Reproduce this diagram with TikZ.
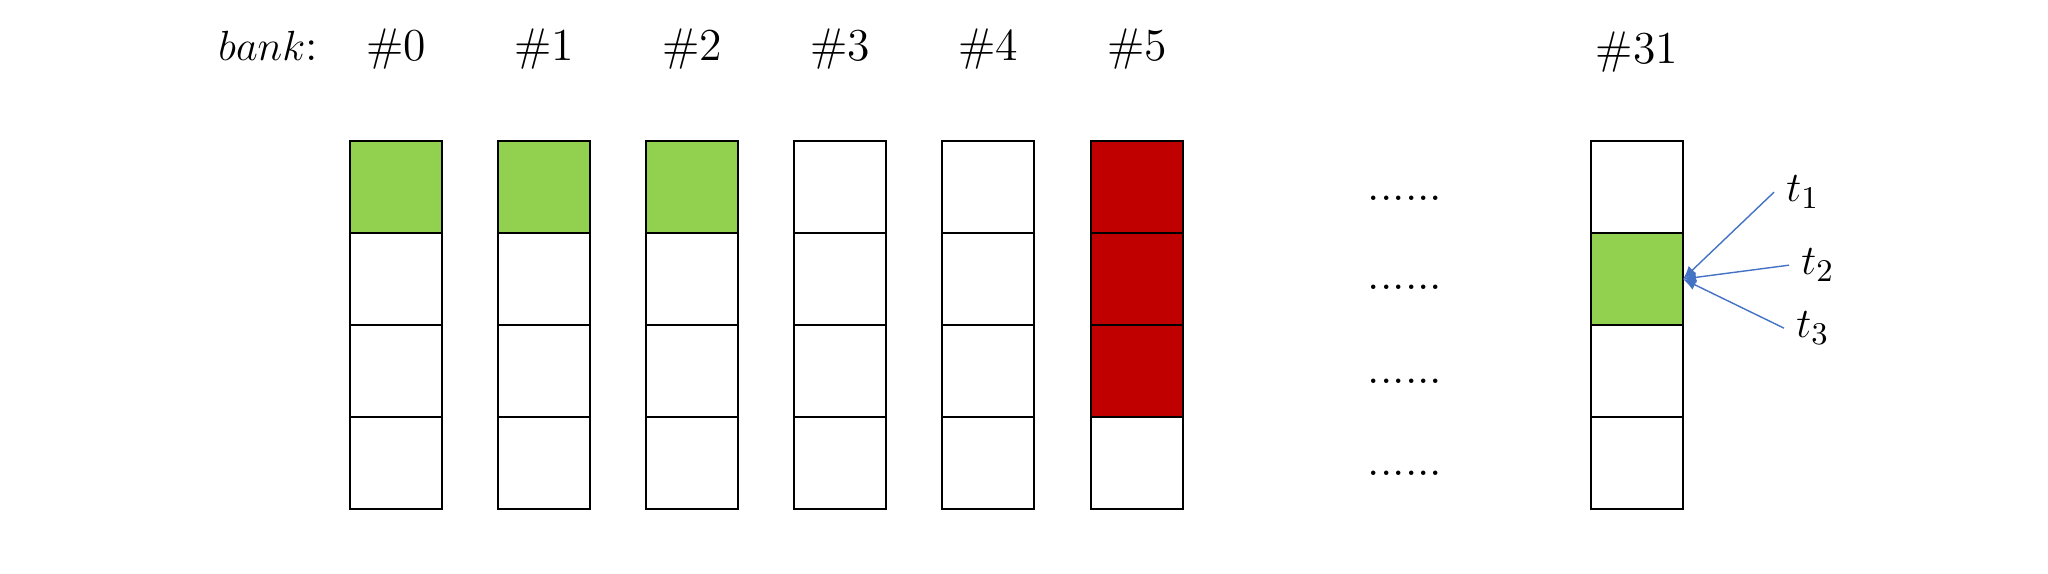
\documentclass[tikz,border=0pt]{standalone}
\usepackage{tikz}
\usetikzlibrary{arrows.meta,positioning}

\definecolor{cellgreen}{HTML}{92D050}
\definecolor{cellred}{HTML}{C00000}
\definecolor{ptrblue}{HTML}{4472C4}

\tikzset{
  cell/.style={draw=black, line width=0.6pt, minimum width=0.92cm, minimum height=0.92cm, inner sep=0, outer sep=0},
  hit/.style={cell, fill=cellgreen},
  clash/.style={cell, fill=cellred},
  banklabel/.style={font=\fontsize{13}{15}\selectfont, inner sep=0},
  dotrow/.style={font=\fontsize{13}{15}\selectfont, inner sep=0},
  thread/.style={font=\fontsize{13}{15}\selectfont},
  access/.style={draw=ptrblue, line width=0.4pt, -{Latex[length=1.3mm,width=1.1mm]}}
}

\begin{document}
\begin{tikzpicture}[x=0.01cm, y=-0.01cm]

\useasboundingbox (0,0) rectangle (2048,574);

% bank 0
\node[hit] (b0a) at (396,187) {};
\node[cell, below=0pt of b0a] (b0b) {};
\node[cell, below=0pt of b0b] (b0c) {};
\node[cell, below=0pt of b0c] (b0d) {};

% bank 1
\node[hit] (b1a) at (544,187) {};
\node[cell, below=0pt of b1a] (b1b) {};
\node[cell, below=0pt of b1b] (b1c) {};
\node[cell, below=0pt of b1c] (b1d) {};

% bank 2
\node[hit] (b2a) at (692,187) {};
\node[cell, below=0pt of b2a] (b2b) {};
\node[cell, below=0pt of b2b] (b2c) {};
\node[cell, below=0pt of b2c] (b2d) {};

% bank 3
\node[cell] (b3a) at (840,187) {};
\node[cell, below=0pt of b3a] (b3b) {};
\node[cell, below=0pt of b3b] (b3c) {};
\node[cell, below=0pt of b3c] (b3d) {};

% bank 4
\node[cell] (b4a) at (988,187) {};
\node[cell, below=0pt of b4a] (b4b) {};
\node[cell, below=0pt of b4b] (b4c) {};
\node[cell, below=0pt of b4c] (b4d) {};

% bank 5 (conflict)
\node[clash] (b5a) at (1137,187) {};
\node[clash, below=0pt of b5a] (b5b) {};
\node[clash, below=0pt of b5b] (b5c) {};
\node[cell, below=0pt of b5c] (b5d) {};

% bank 31
\node[cell] (b31a) at (1637,187) {};
\node[hit, below=0pt of b31a] (b31b) {};
\node[cell, below=0pt of b31b] (b31c) {};
\node[cell, below=0pt of b31c] (b31d) {};

% bank numbers
\node[banklabel, anchor=base] (n0) at ([yshift=0.8cm]b0a.north) {\#0};
\node[banklabel, anchor=base] (n1) at ([yshift=0.8cm]b1a.north) {\#1};
\node[banklabel, anchor=base] (n2) at ([yshift=0.8cm]b2a.north) {\#2};
\node[banklabel, anchor=base] (n3) at ([yshift=0.8cm]b3a.north) {\#3};
\node[banklabel, anchor=base] (n4) at ([yshift=0.8cm]b4a.north) {\#4};
\node[banklabel, anchor=base] (n5) at ([yshift=0.8cm]b5a.north) {\#5};
\node[banklabel, anchor=base] (n31) at ([yshift=0.77cm]b31a.north) {\#31};
\node[banklabel, anchor=base east] (bank) at ([xshift=-0.47cm]n0.base west) {$bank$:};

% skipped banks
\node[dotrow] (dotsa) at (1405,198) {......};
\node[dotrow] (dotsb) at (1405,287) {......};
\node[dotrow] (dotsc) at (1405,381) {......};
\node[dotrow] (dotsd) at (1405,473) {......};

% threads
\node[thread, anchor=base west] (t1) at (1774,202) {$t_1$};
\node[thread, anchor=base west] (t2) at (1789,275) {$t_2$};
\node[thread, anchor=base west] (t3) at (1784,338) {$t_3$};

% arrows
\draw[access] (t1.west) -- (b31b.east);
\draw[access] (t2.west) -- (b31b.east);
\draw[access] (t3.west) -- (b31b.east);

\end{tikzpicture}
\end{document}
